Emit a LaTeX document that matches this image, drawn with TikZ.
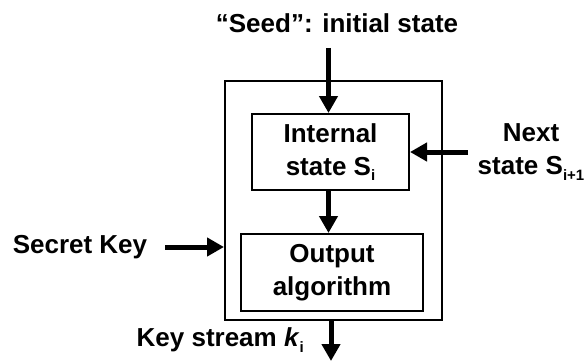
\documentclass[tikz,border=0pt]{standalone}
\usepackage{fontspec}
\setmainfont{Liberation Sans}
\usetikzlibrary{arrows.meta}
\newcommand{\sbs}[1]{\raisebox{-0.22em}{\fontsize{15}{15}\selectfont #1}}
\tikzset{
  lbl/.style={font=\fontsize{26}{33}\selectfont\bfseries, inner sep=0pt, align=center},
  blk/.style={draw, line width=2pt, inner sep=0pt, lbl},
  bigarrow/.style={line width=5pt, -{Triangle[width=18pt,length=17pt]}},
}
\begin{document}
\begin{tikzpicture}[x=1pt,y=-1pt]
\useasboundingbox (0,0) rectangle (588,361);
\node[blk, minimum width=217pt, minimum height=239pt] (outer) at (333.5,200.5) {};
\node[blk, minimum width=157pt, minimum height=76pt] (internal) at (330.5,152) {Internal\\state S\sbs{i}};
\node[blk, minimum width=182pt, minimum height=77pt] (output) at (332,272.5) {Output\\algorithm};
\node[lbl] (seed) at (337,23) {“Seed”: initial state};
\node[lbl] (next) at (531,152) {Next\\state S\sbs{i+1}};
\node[lbl] (secret) at (80,247) {Secret Key};
\node[lbl, anchor=east] (keys) at (304,340) {Key stream \textit{k}\sbs{i}};
\coordinate (seedtop) at (328.5,48);
\coordinate (nextstart) at (468,152);
\coordinate (secstart) at (165,247);
\coordinate (keyend) at (331,361);
\draw[bigarrow] (seedtop) -- (seedtop |- internal.north);
\draw[bigarrow] (seedtop |- internal.south) -- (seedtop |- output.north);
\draw[bigarrow] (nextstart) -- (nextstart -| internal.east);
\draw[bigarrow] (secstart) -- (secstart -| outer.west);
\draw[bigarrow] (keyend |- outer.south) -- (keyend);
\end{tikzpicture}
\end{document}
